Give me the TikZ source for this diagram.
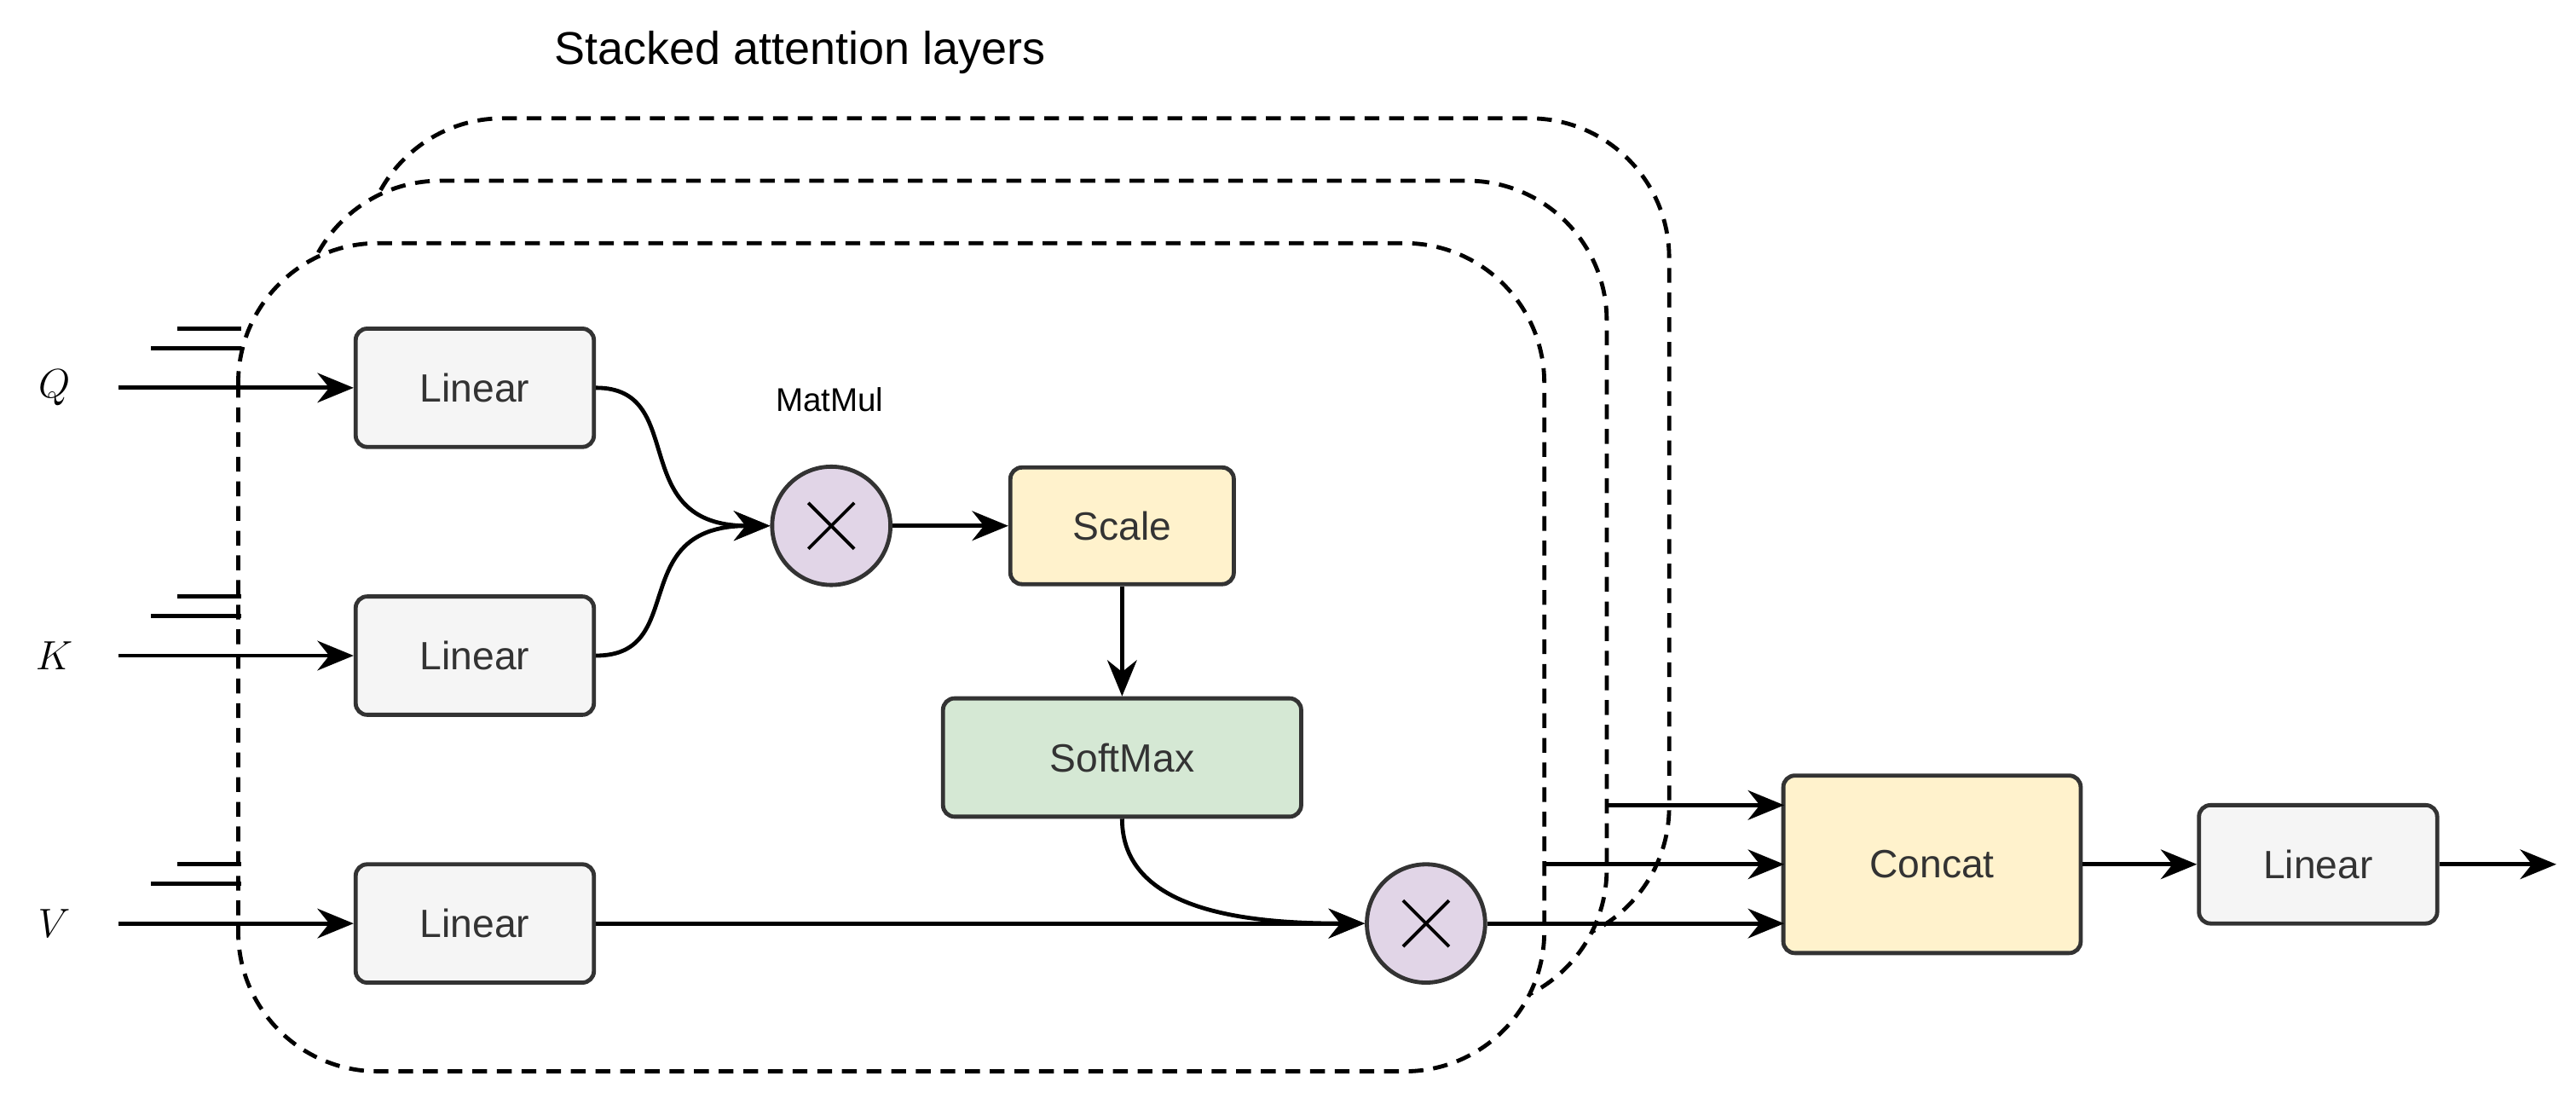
\documentclass[tikz,border=0pt]{standalone}
\usepackage{fontspec}
\setmainfont{Liberation Sans}
\usetikzlibrary{arrows.meta}
\begin{document}
\begin{tikzpicture}[x=1pt,y=-1pt,
 box/.style={draw=black!80,line width=2.5pt,rounded corners=7pt,font=\fontsize{24}{28}\selectfont,text=black!80},
 lin/.style={box,fill=black!4,minimum width=145pt,minimum height=72pt},
 op/.style={circle,draw=black!80,line width=2.5pt,fill={rgb,255:red,225;green,213;blue,231},minimum size=72pt,inner sep=0pt},
 ar/.style={line width=2.5pt,-{Stealth[length=22pt,width=18pt]}},
 ln/.style={line width=2.5pt},
 layer/.style={dashed,line width=2.5pt,dash pattern=on 9pt off 6pt,rounded corners=85pt}]
\useasboundingbox (0,0) rectangle (1568,665);
\node[font=\fontsize{28}{32}\selectfont] (t) at (487,32) {Stacked attention layers};
\draw[layer] (221,72) rectangle (1016,576);
\draw[layer,fill=white] (183,110) rectangle (978,614);
\draw[layer,fill=white] (145,148) rectangle (940,652);
\foreach \y/\n in {236/Q,399/K,562/V}{
 \node[font=\fontsize{40}{44}\selectfont] (\n) at (33,\y) {$\n$};
 \coordinate (s\n) at (72,\y);
 \draw[ln] (108,\y-36) -- (147,\y-36);
 \draw[ln] (92,\y-24) -- (147,\y-24);
}
\node[lin] (lq) at (289,236) {Linear};
\node[lin] (lk) at (289,399) {Linear};
\node[lin] (lv) at (289,562) {Linear};
\draw[ar] (sQ) -- (lq);
\draw[ar] (sK) -- (lk);
\draw[ar] (sV) -- (lv);
\node[op] (m1) at (506,320) {};
\draw[line width=2pt] (m1.center)++(-14,-14) -- ++(28,28) (m1.center)++(14,-14) -- ++(-28,28);
\node[font=\fontsize{20}{24}\selectfont] (mm) at (505,243) {MatMul};
\node[box,fill={rgb,255:red,255;green,242;blue,204},minimum width=136pt,minimum height=71pt] (sc) at (683,320) {Scale};
\node[box,fill={rgb,255:red,213;green,232;blue,212},minimum width=218pt,minimum height=72pt] (sm) at (683,461) {SoftMax};
\node[op] (m2) at (868,562) {};
\draw[line width=2pt] (m2.center)++(-14,-14) -- ++(28,28) (m2.center)++(14,-14) -- ++(-28,28);
\node[box,fill={rgb,255:red,255;green,242;blue,204},minimum width=181pt,minimum height=108pt] (cc) at (1176,526) {Concat};
\node[lin] (lo) at (1411,526) {Linear};
\coordinate (out) at (1556,526);
\draw[ar] (lq.east) .. controls (420,236) and (380,320) .. (m1.west);
\draw[ar] (lk.east) .. controls (420,399) and (380,320) .. (m1.west);
\draw[ar] (m1) -- (sc);
\draw[ar] (sc) -- (sm);
\draw[ar] (lv) -- (m2);
\draw[ar] (sm.south) .. controls (683,555) and (760,562) .. (m2.west);
\coordinate (c1) at (978,490);
\coordinate (c2) at (940,526);
\draw[ar] (c1) -- (1086,490);
\draw[ar] (c2) -- (1086,526);
\draw[ar] (m2) -- (1086,562);
\draw[ar] (cc) -- (lo);
\draw[ar] (lo) -- (out);
\end{tikzpicture}
\end{document}
